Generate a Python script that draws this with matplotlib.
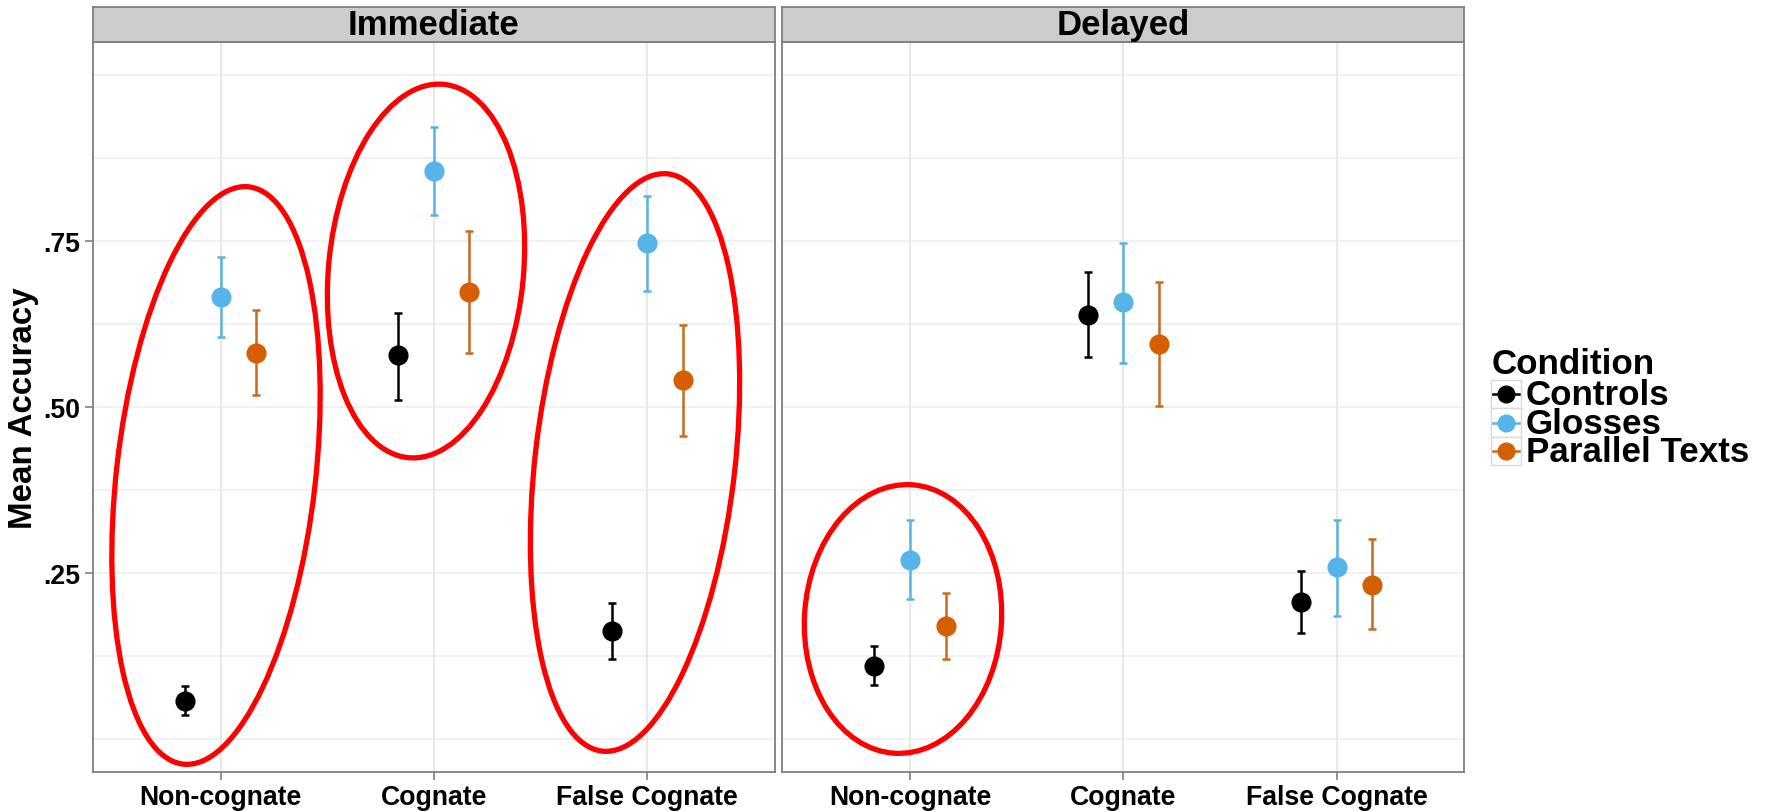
import matplotlib.pyplot as plt
from matplotlib.patches import Ellipse, Rectangle
from matplotlib.lines import Line2D
import numpy as np

plt.rcParams['font.family'] = ['Liberation Sans', 'DejaVu Sans']
plt.rcParams['font.weight'] = 'bold'

# datos
categories = ["Non-cognate", "Cognate", "False Cognate"]
conditions = ["Controls", "Glosses", "Parallel Texts"]
panels = ["Immediate", "Delayed"]

controls_imm = [0.057, 0.578, 0.162]
controls_imm_lo = [0.036, 0.511, 0.120]
controls_imm_hi = [0.079, 0.642, 0.205]
glosses_imm = [0.666, 0.856, 0.747]
glosses_imm_lo = [0.606, 0.790, 0.675]
glosses_imm_hi = [0.726, 0.923, 0.818]
parallel_imm = [0.582, 0.674, 0.540]
parallel_imm_lo = [0.518, 0.581, 0.456]
parallel_imm_hi = [0.647, 0.765, 0.624]

controls_del = [0.110, 0.639, 0.206]
controls_del_lo = [0.081, 0.575, 0.159]
controls_del_hi = [0.139, 0.704, 0.253]
glosses_del = [0.269, 0.658, 0.258]
glosses_del_lo = [0.210, 0.566, 0.185]
glosses_del_hi = [0.329, 0.748, 0.330]
parallel_del = [0.170, 0.595, 0.232]
parallel_del_lo = [0.120, 0.502, 0.165]
parallel_del_hi = [0.219, 0.688, 0.301]

y_ticks = [0.25, 0.50, 0.75]
y_ticklabels = [".25", ".50", ".75"]

point_colors = ["#000000", "#56B4E9", "#D55E00"]
bar_colors = ["#000000", "#5AB2E3", "#C9691F"]
offsets = [-1/6, 0, 1/6]

data = {
    "Immediate": [(controls_imm, controls_imm_lo, controls_imm_hi),
                  (glosses_imm, glosses_imm_lo, glosses_imm_hi),
                  (parallel_imm, parallel_imm_lo, parallel_imm_hi)],
    "Delayed": [(controls_del, controls_del_lo, controls_del_hi),
                (glosses_del, glosses_del_lo, glosses_del_hi),
                (parallel_del, parallel_del_lo, parallel_del_hi)],
}

fig = plt.figure(figsize=(17.71, 8.12), dpi=100)

W, H = 1771, 812
panel_left = [92.7 / W, 782 / W]
panel_w = 682.5 / W
panel_bottom = 1 - 772.7 / H
panel_h = (772.7 - 43.3) / H
strip_bottom = 1 - 43.3 / H
strip_h = (43.3 - 8.3) / H
border = "#7F7F7F"

x = np.arange(1, len(categories) + 1)

for p, name in enumerate(panels):
    ax = fig.add_axes([panel_left[p], panel_bottom, panel_w, panel_h])
    ax.set_xlim(0.4, 3.6)
    ax.set_ylim(-0.05, 1.05)
    for v in np.arange(0, 1.001, 0.125):
        ax.axhline(v, color="#EFEFEF", lw=1.2, zorder=0)
    for xi in x:
        ax.axvline(xi, color="#E6E6E6", lw=1.3, zorder=0)

    for i, (mean, lo, hi) in enumerate(data[name]):
        mean = np.array(mean)
        err = [mean - np.array(lo), np.array(hi) - mean]
        ax.errorbar(x + offsets[i], mean, yerr=err, fmt="none", ecolor=bar_colors[i],
                    elinewidth=1.8, capsize=2.9, capthick=1.8, zorder=2)
        ax.plot(x + offsets[i], mean, "o", ms=13.5, color=point_colors[i], zorder=3)

    ax.set_xticks(x)
    ax.set_xticklabels(categories, fontsize=19.2, fontweight="bold")
    if p == 0:
        ax.set_yticks(y_ticks)
        ax.set_yticklabels(y_ticklabels, fontsize=19.2, fontweight="bold")
        ax.tick_params(axis="y", length=6, width=1.2, color=border, pad=3)
    else:
        ax.set_yticks([])
    ax.tick_params(axis="x", length=6, width=1.2, color=border, pad=3)
    for s in ax.spines.values():
        s.set_color(border)
        s.set_linewidth(1.3)

    sax = fig.add_axes([panel_left[p], strip_bottom, panel_w, strip_h])
    sax.set_facecolor("#CCCCCC")
    sax.set_xticks([])
    sax.set_yticks([])
    for s in sax.spines.values():
        s.set_color(border)
        s.set_linewidth(1.3)
    sax.text(0.5, 0.5, name, transform=sax.transAxes, ha="center", va="center",
             fontsize=25, fontweight="bold")

fig.text(24 / W, 1 - 408 / H, "Mean Accuracy", rotation=90, ha="center", va="center",
         fontsize=23.9, fontweight="bold")

# capa en pixeles para las elipses rojas y la leyenda
ov = fig.add_axes([0, 0, 1, 1])
ov.set_xlim(0, W)
ov.set_ylim(H, 0)
ov.axis("off")

ellipses = [((216, 476.5), 199, 581, 6.5),
            ((426, 272), 195, 375, 5.4),
            ((635, 463.5), 200, 581, 6.5),
            ((903, 620), 197, 269, 3.8)]
for c, w, h, a in ellipses:
    ov.add_patch(Ellipse(c, w, h, angle=a, fill=False, ec="#FF0000", lw=3.8, zorder=5))

ov.text(1492, 365, "Condition", ha="left", va="center", fontsize=25.2, fontweight="bold")
for i, cond in enumerate(conditions):
    yc = 395 + 28.5 * i
    ov.add_patch(Rectangle((1491, yc - 14.25), 30, 28.5, fc="white", ec="#D9D9D9", lw=1))
    ov.add_line(Line2D([1493, 1519], [yc, yc], color=bar_colors[i], lw=1.8))
    ov.plot(1506, yc, "o", ms=12, color=point_colors[i])
    ov.text(1526, yc + 1, cond, ha="left", va="center", fontsize=25.2, fontweight="bold")

fig.savefig("out.png", dpi=100)
